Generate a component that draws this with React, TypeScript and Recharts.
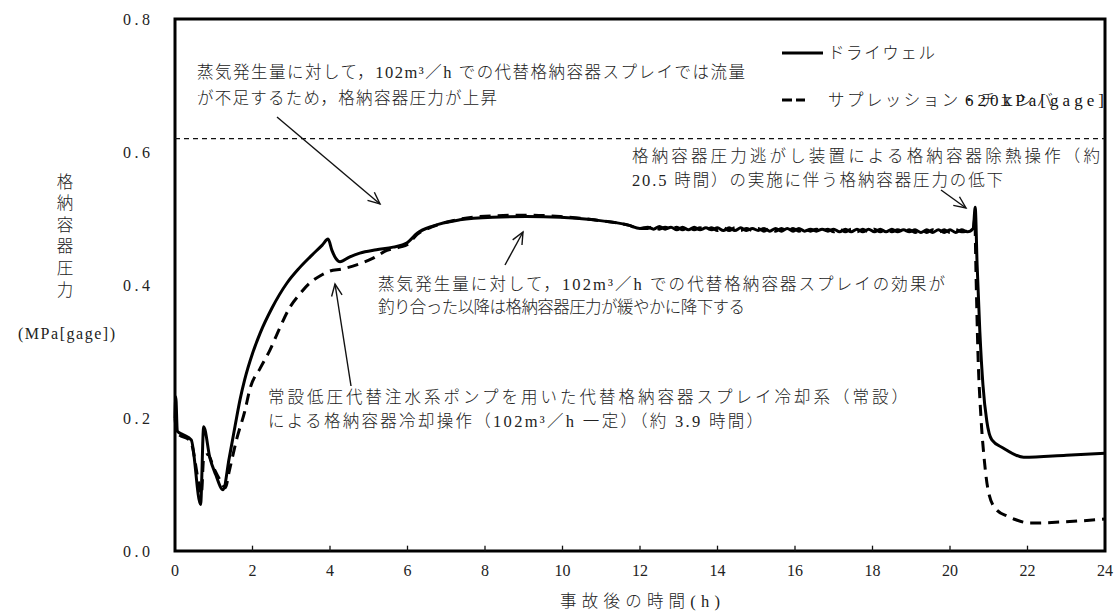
import React from "react";
import { LineChart, Line, XAxis, YAxis, ReferenceLine, ReferenceArea } from "recharts";

const xTicks = [0, 2, 4, 6, 8, 10, 12, 14, 16, 18, 20, 22, 24];
const yTicks = [0, 0.2, 0.4, 0.6, 0.8];
const limitPressure = 0.62;

// ドライウェル (solid)
const dwEarlyTime = [0, 0.02, 0.06, 0.2, 0.42, 0.66, 0.74, 0.9, 1.05, 1.24, 1.4, 1.55, 1.68, 1.8, 2.0, 2.2, 2.5, 2.89, 3.2, 3.5, 3.8, 3.95, 4.05, 4.15, 4.26, 4.5, 4.77, 5.2, 5.63, 5.98, 6.25, 6.67, 7.35, 8.2, 9.07, 9.94, 10.8, 11.7, 12.0];
const dwEarlyPress = [0.2, 0.232, 0.18, 0.175, 0.167, 0.07, 0.187, 0.14, 0.115, 0.092, 0.14, 0.188, 0.228, 0.258, 0.297, 0.328, 0.365, 0.403, 0.425, 0.443, 0.46, 0.469, 0.452, 0.44, 0.435, 0.442, 0.448, 0.453, 0.457, 0.463, 0.478, 0.489, 0.498, 0.502, 0.503, 0.502, 0.498, 0.49, 0.485];
const dwLateTime = [20.6, 20.65, 20.7, 20.77, 20.85, 20.95, 21.08, 21.37, 21.9, 23.0, 24.0];
const dwLatePress = [0.485, 0.517, 0.43, 0.33, 0.25, 0.195, 0.167, 0.155, 0.141, 0.144, 0.147];

// サプレッション・チェンバ (dashed)
const swEarlyTime = [0, 0.05, 0.4, 0.62, 0.68, 0.74, 0.85, 1.0, 1.15, 1.3, 1.4, 1.6, 1.8, 1.94, 2.2, 2.45, 2.7, 2.97, 3.2, 3.48, 3.75, 4.0, 4.3, 4.77, 5.1, 5.47, 5.8, 6.0, 6.25, 6.67, 7.35, 8.2, 9.07, 9.94, 10.8, 11.7, 12.0];
const swEarlyPress = [0.2, 0.178, 0.165, 0.1, 0.085, 0.14, 0.145, 0.125, 0.108, 0.095, 0.12, 0.17, 0.21, 0.245, 0.275, 0.302, 0.335, 0.367, 0.385, 0.403, 0.414, 0.421, 0.424, 0.432, 0.44, 0.452, 0.457, 0.461, 0.476, 0.488, 0.499, 0.504, 0.505, 0.503, 0.498, 0.49, 0.485];
const swLateTime = [20.6, 20.64, 20.67, 20.72, 20.8, 20.88, 21.0, 21.2, 21.5, 21.7, 22.06, 23.0, 24.0];
const swLatePress = [0.482, 0.5, 0.42, 0.3, 0.2, 0.14, 0.087, 0.062, 0.052, 0.047, 0.042, 0.044, 0.048];

// 12h-20.5h: small oscillation
const plateauTime = [
  12.2, 12.35, 12.5, 12.65, 12.8, 12.95, 13.1, 13.25, 13.4, 13.55,
  13.7, 13.85, 14.0, 14.15, 14.3, 14.45, 14.6, 14.75, 14.9, 15.05,
  15.2, 15.35, 15.5, 15.65, 15.8, 15.95, 16.1, 16.25, 16.4, 16.55,
  16.7, 16.85, 17.0, 17.15, 17.3, 17.45, 17.6, 17.75, 17.9, 18.05,
  18.2, 18.35, 18.5, 18.65, 18.8, 18.95, 19.1, 19.25, 19.4, 19.55,
  19.7, 19.85, 20.0, 20.15, 20.3, 20.45,
];
const dwPlateau = [
  0.487, 0.484, 0.488, 0.484, 0.487, 0.483, 0.487, 0.483, 0.487, 0.483,
  0.486, 0.483, 0.486, 0.482, 0.486, 0.482, 0.486, 0.482, 0.485, 0.482,
  0.485, 0.481, 0.485, 0.481, 0.485, 0.481, 0.485, 0.481, 0.484, 0.481,
  0.484, 0.481, 0.484, 0.48, 0.484, 0.48, 0.484, 0.48, 0.484, 0.48,
  0.484, 0.48, 0.484, 0.48, 0.483, 0.48, 0.483, 0.479, 0.483, 0.479,
  0.483, 0.479, 0.483, 0.479, 0.483, 0.48,
];
const swPlateau = [
  0.485, 0.488, 0.484, 0.487, 0.484, 0.487, 0.483, 0.487, 0.483, 0.486,
  0.483, 0.486, 0.482, 0.486, 0.482, 0.486, 0.482, 0.485, 0.482, 0.485,
  0.481, 0.485, 0.481, 0.485, 0.481, 0.485, 0.481, 0.484, 0.481, 0.484,
  0.481, 0.484, 0.48, 0.484, 0.48, 0.484, 0.48, 0.484, 0.48, 0.484,
  0.48, 0.484, 0.48, 0.483, 0.48, 0.483, 0.479, 0.483, 0.479, 0.483,
  0.479, 0.483, 0.479, 0.483, 0.48, 0.481,
];

const zip = (t: number[], p: number[]) => t.map((v, i) => ({ t: v, p: p[i] }));
const drywell = [...zip(dwEarlyTime, dwEarlyPress), ...zip(plateauTime, dwPlateau), ...zip(dwLateTime, dwLatePress)];
const wetwell = [...zip(swEarlyTime, swEarlyPress), ...zip(plateauTime, swPlateau), ...zip(swLateTime, swLatePress)];

const SERIF = '"Liberation Serif", "Noto Sans CJK JP", serif';
const INK = "#222";

function XTick({ x, y, payload }: any) {
  return (
    <text x={x} y={y + 19} textAnchor="middle" dominantBaseline="central" fontFamily={SERIF} fontSize={16} fill={INK}>
      {payload.value}
    </text>
  );
}

function YTick({ x, y, payload }: any) {
  return (
    <text x={x - 25} y={y} textAnchor="end" dominantBaseline="central" fontFamily={SERIF} fontSize={16} fill={INK} textLength={27} lengthAdjust="spacing">
      {Number(payload.value).toFixed(1)}
    </text>
  );
}

function Arrow({ x1, y1, x2, y2 }: { x1: number; y1: number; x2: number; y2: number }) {
  const a = Math.atan2(y2 - y1, x2 - x1);
  const len = 13;
  const spread = 0.42;
  const h1 = [x2 - len * Math.cos(a - spread), y2 - len * Math.sin(a - spread)];
  const h2 = [x2 - len * Math.cos(a + spread), y2 - len * Math.sin(a + spread)];
  return (
    <g stroke="#111" strokeWidth={1.4} fill="none">
      <line x1={x1} y1={y1} x2={x2} y2={y2} />
      <polyline points={`${h1[0]},${h1[1]} ${x2},${y2} ${h2[0]},${h2[1]}`} />
    </g>
  );
}

function Note({ x, y, w, children }: { x: number; y: number; w: number; children: string }) {
  return (
    <text x={x} y={y} dominantBaseline="central" fontFamily={SERIF} fontSize={16.5} fontWeight={300} fill={INK} textLength={w} lengthAdjust="spacing">
      {children}
    </text>
  );
}

export default function App() {
  return (
    <div style={{ position: "absolute", left: 0, top: 0, width: 1118, height: 616, background: "#fff" }}>
      <LineChart width={1118} height={616} data={drywell} margin={{ top: 19, right: 13, bottom: 0, left: 0 }}>
        <XAxis
          type="number"
          dataKey="t"
          domain={[0, 24]}
          ticks={xTicks}
          interval={0}
          height={65}
          axisLine={false}
          tickLine={false}
          tickSize={0}
          tickMargin={0}
          tick={<XTick />}
        />
        <YAxis
          type="number"
          domain={[0, 0.8]}
          ticks={yTicks}
          interval={0}
          width={175}
          axisLine={false}
          tickLine={false}
          tickSize={0}
          tickMargin={0}
          tick={<YTick />}
        />
        <ReferenceLine y={limitPressure} stroke="#111" strokeWidth={1.3} strokeDasharray="5 4" />
        {xTicks.slice(1, -1).map((v) => (
          <ReferenceLine key={v} segment={[{ x: v, y: 0 }, { x: v, y: 0.008 }]} stroke="#111" strokeWidth={1.3} />
        ))}
        <Line data={wetwell} dataKey="p" type="monotone" stroke="#000" strokeWidth={3} strokeDasharray="11 7" dot={false} isAnimationActive={false} />
        <Line data={drywell} dataKey="p" type="monotone" stroke="#000" strokeWidth={3} dot={false} isAnimationActive={false} />
        <ReferenceArea x1={0} x2={24} y1={0} y2={0.8} fill="none" fillOpacity={0} stroke="#000" strokeWidth={3} ifOverflow="visible" />
      </LineChart>

      <svg width={1118} height={616} style={{ position: "absolute", left: 0, top: 0, pointerEvents: "none" }}>
        {/* y axis title */}
        {"格納容器圧力".split("").map((c, i) => (
          <text key={c} x={65} y={182 + i * 21.6} textAnchor="middle" dominantBaseline="central" fontFamily={SERIF} fontSize={16.5} fontWeight={300} fill={INK}>
            {c}
          </text>
        ))}
        <text x={18} y={333} dominantBaseline="central" fontFamily={SERIF} fontSize={16} fill={INK} textLength={97} lengthAdjust="spacing">
          (MPa[gage])
        </text>
        <text x={640} y={601} textAnchor="middle" dominantBaseline="central" fontFamily={SERIF} fontSize={16.5} fontWeight={300} fill={INK} textLength={160} lengthAdjust="spacing">
          事故後の時間(h)
        </text>

        {/* legend */}
        <line x1={782} y1={53} x2={823} y2={53} stroke="#000" strokeWidth={3} />
        <Note x={828} y={53} w={107}>ドライウェル</Note>
        <line x1={782} y1={100} x2={805} y2={100} stroke="#000" strokeWidth={3} strokeDasharray="10 4" />
        <Note x={828} y={100} w={225}>サプレッション・チェンバ</Note>
        <text x={965} y={100} dominantBaseline="central" fontFamily={SERIF} fontSize={17} fill="#111" textLength={139} lengthAdjust="spacing">
          620kPa[gage]
        </text>

        {/* annotations */}
        <Note x={197} y={72} w={548}>蒸気発生量に対して，102m³／h での代替格納容器スプレイでは流量</Note>
        <Note x={197} y={98} w={300}>が不足するため，格納容器圧力が上昇</Note>
        <Arrow x1={277} y1={117} x2={380} y2={204} />

        <Note x={632} y={156} w={468}>格納容器圧力逃がし装置による格納容器除熱操作（約</Note>
        <Note x={632} y={180} w={371}>20.5 時間）の実施に伴う格納容器圧力の低下</Note>
        <Arrow x1={941} y1={190} x2={966} y2={208} />

        <Note x={378} y={284} w={567}>蒸気発生量に対して，102m³／h での代替格納容器スプレイの効果が</Note>
        <Note x={378} y={307} w={367}>釣り合った以降は格納容器圧力が緩やかに降下する</Note>
        <Arrow x1={505} y1={265} x2={523} y2={232} />

        <Note x={268} y={397} w={640}>常設低圧代替注水系ポンプを用いた代替格納容器スプレイ冷却系（常設）</Note>
        <Note x={268} y={421} w={495}>による格納容器冷却操作（102m³／h 一定）（約 3.9 時間）</Note>
        <Arrow x1={351} y1={386} x2={335} y2={284} />
      </svg>
    </div>
  );
}
